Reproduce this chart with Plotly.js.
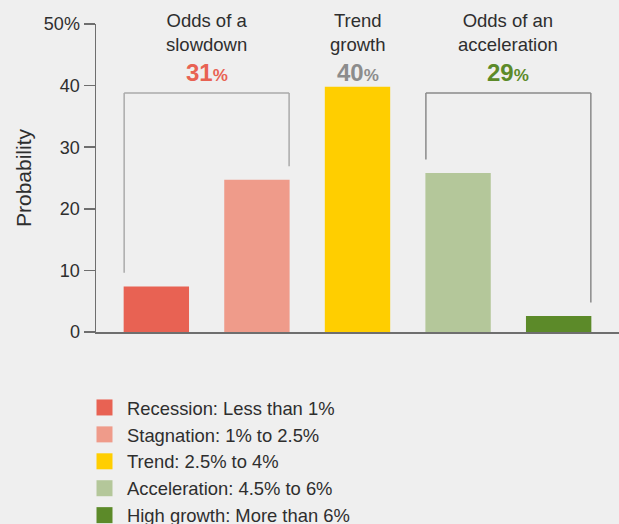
<!DOCTYPE html>
<html>
<head>
<meta charset="utf-8">
<script src="https://cdn.plot.ly/plotly-3.0.1.min.js"></script>
<style>html,body{margin:0;padding:0;background:#efefef;}#chart{width:619px;height:524px;}</style>
</head>
<body>
<div id="chart"></div>
<script>
const categories = ["Recession", "Stagnation", "Trend", "Acceleration", "High growth"];
const legendLabels = ["Recession: Less than 1%", "Stagnation: 1% to 2.5%", "Trend: 2.5% to 4%", "Acceleration: 4.5% to 6%", "High growth: More than 6%"];
const probability = [7.4, 24.7, 39.8, 25.8, 2.6];
const colors = ["#e86253", "#ef9b8a", "#ffce00", "#b4c79a", "#5c8a29"];
const yTickVals = [0, 10, 20, 30, 40, 50];
const yTickText = ["0", "10", "20", "30", "40", "50%"];
const groupTitles = ["Odds of a<br>slowdown", "Trend<br>growth", "Odds of an<br>acceleration"];
const groupOdds = ["31", "40", "29"];
const groupColors = ["#e86253", "#8c8c8c", "#5c8a29"];
const groupMembers = [[0, 1], [2], [3, 4]];

const FONT = "Liberation Sans, Arial, sans-serif";
const TXT = "#2e2e2e";
const barWidth = 0.65;

const traces = [];
categories.forEach((c, i) => {
  traces.push({
    type: "bar", x: [c], y: [probability[i]], width: barWidth,
    marker: {color: colors[i], line: {width: 0}}, showlegend: false, hoverinfo: "skip"
  });
});
categories.forEach((c, i) => {
  traces.push({
    type: "scatter", mode: "markers", x: [null], y: [null], name: legendLabels[i],
    marker: {symbol: "square", size: 17, color: colors[i]}, showlegend: true
  });
});

const bracketTop = 38.8;
const gap = 2.2;
const shapes = [];
function bracket(iL, iR, color) {
  const xl = iL - barWidth / 2 + 0.005, xr = iR + barWidth / 2 - 0.005;
  const ln = {color: color, width: 1.5};
  shapes.push({type: "line", xref: "x", yref: "y", x0: xl, x1: xl, y0: probability[iL] + gap, y1: bracketTop, line: ln});
  shapes.push({type: "line", xref: "x", yref: "y", x0: xl, x1: xr, y0: bracketTop, y1: bracketTop, line: ln});
  shapes.push({type: "line", xref: "x", yref: "y", x0: xr, x1: xr, y0: probability[iR] + gap, y1: bracketTop, line: ln});
}
bracket(0, 1, "#aaaaaa");
bracket(3, 4, "#8a8a8a");

const annotations = [];
groupMembers.forEach((m, g) => {
  const xc = (m[0] + m[m.length - 1]) / 2;
  annotations.push({
    xref: "x", yref: "y", x: xc, y: 48.7, text: groupTitles[g], showarrow: false,
    xanchor: "center", yanchor: "middle", font: {family: FONT, size: 18.5, color: TXT}
  });
  annotations.push({
    xref: "x", yref: "y", x: xc, y: 42.2, showarrow: false, xanchor: "center", yanchor: "middle",
    text: "<b>" + groupOdds[g] + "<span style='font-size:17px'>%</span></b>",
    font: {family: FONT, size: 24, color: groupColors[g]}
  });
});

const layout = {
  width: 619, height: 524,
  margin: {l: 96, r: 0, t: 24, b: 192, pad: 0, autoexpand: false},
  paper_bgcolor: "#efefef", plot_bgcolor: "#efefef",
  barmode: "overlay",
  xaxis: {
    type: "category", range: [-0.6, 4.6], showticklabels: false, ticks: "", automargin: false,
    showgrid: false, zeroline: false, showline: true, linecolor: "#6e6e6e", linewidth: 2, fixedrange: true
  },
  yaxis: {
    range: [0, 50], tickvals: yTickVals, ticktext: yTickText, ticks: "outside", ticklen: 11, automargin: false,
    tickwidth: 1.5, tickcolor: "#6e6e6e", showline: true, linecolor: "#6e6e6e", linewidth: 1.5,
    showgrid: false, zeroline: false, tickfont: {family: FONT, size: 18, color: TXT},
    title: {text: "Probability", font: {family: FONT, size: 21, color: TXT}, standoff: 6}
  },
  legend: {
    xref: "paper", yref: "paper", x: (82 - 96) / 523, y: (332 - 389) / 308, xanchor: "left", yanchor: "top",
    font: {family: FONT, size: 18.4, color: TXT}, bgcolor: "rgba(0,0,0,0)", traceorder: "normal", itemwidth: 35
  },
  shapes: shapes,
  annotations: annotations,
  showlegend: true
};

Plotly.newPlot("chart", traces, layout, {displayModeBar: false, staticPlot: true});
</script>
</body>
</html>
